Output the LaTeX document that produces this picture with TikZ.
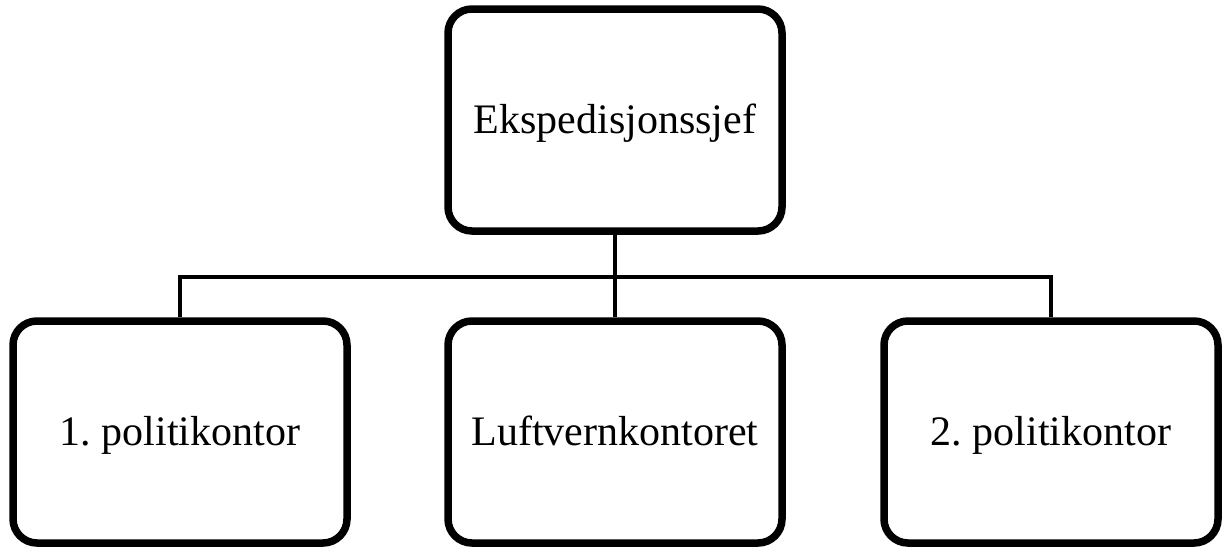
\documentclass[tikz,border=0pt]{standalone}
\usepackage{fontspec}
\setmainfont{Liberation Serif}
\usepackage{tikz}
\usetikzlibrary{positioning}
\frenchspacing

\begin{document}
\begin{tikzpicture}[x=1pt, y=-1pt,
    unit/.style={draw, line width=7.5pt, rounded corners=24pt, fill=white,
      minimum width=334pt, minimum height=222pt, text height=27pt, text depth=0pt,
      font=\fontsize{42}{48}\selectfont},
    link/.style={line width=4.5pt}]
    \useasboundingbox (0,0) rectangle (1222,547);

    % Top box
    \node[unit] (Chief) at (615,120) {Ekspedisjonssjef};

    % Bottom row
    \node[unit] (PolOne) at (180,432) {1. politikontor};
    \node[unit] (AirDef) at (615,432) {Luftvernkontoret};
    \node[unit] (PolTwo) at (1051,432) {2. politikontor};

    % Connectors
    \coordinate (bus) at (615,277);
    \draw[link] (Chief.south) -- (AirDef.north);
    \draw[link] (PolOne.north) |- (bus) -| (PolTwo.north);

  \end{tikzpicture}
\end{document}
